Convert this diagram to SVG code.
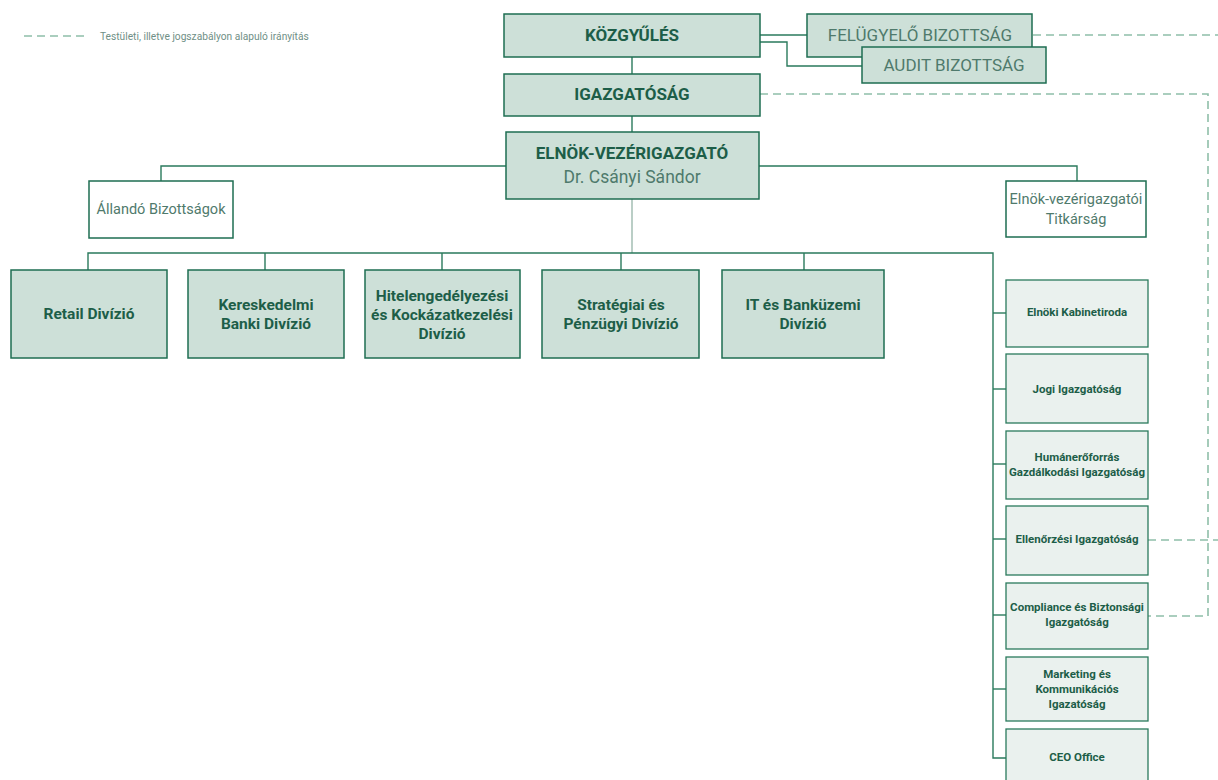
<svg xmlns="http://www.w3.org/2000/svg" width="1218" height="780" viewBox="0 0 1218 780">
<defs>
<style>
.box{fill:#cde0d8;stroke:#1e6e52;stroke-width:1.5}
.wbox{fill:#ffffff;stroke:#1e6e52;stroke-width:1.5}
.lbox{fill:#eaf1ee;stroke:#2a7a5c;stroke-width:1.3}
.ln{fill:none;stroke:#2a7a5c;stroke-width:1.4}
.lnl{fill:none;stroke:#a9c2b8;stroke-width:1.6}
.dash{fill:none;stroke:#8fbfa9;stroke-width:1.6;stroke-dasharray:8 5}
text{font-family:Roboto,"Liberation Sans",sans-serif;text-anchor:middle}
.tb{font-weight:bold;fill:#1d5e48;font-size:17px}
.tr{fill:#4f7a6c;font-size:17px}
.tr2{fill:#4f7a6c;font-size:17.5px}
.td{font-weight:bold;fill:#1d5e48;font-size:15.5px}
.ts{fill:#4f7a6c;font-size:14.5px}
.tx{font-weight:bold;fill:#1d5e48;font-size:11.5px}
.leg{fill:#6f8f86;font-size:10.2px;text-anchor:start}
</style>
</defs>
<g id="legend">
<line class="dash" x1="24" y1="36" x2="84" y2="36"/>
<text class="leg" x="100" y="39.5">Testületi, illetve jogszabályon alapuló irányítás</text>
</g>
<g id="connectors">
<line class="ln" x1="632" y1="57" x2="632" y2="74"/>
<line class="ln" x1="632" y1="116" x2="632" y2="132"/>
<line class="ln" x1="760" y1="35" x2="807" y2="35"/>
<polyline class="ln" points="760,42 787,42 787,66 862,66"/>
<polyline class="ln" points="506,166 161,166 161,181"/>
<polyline class="ln" points="758,166 1077,166 1077,181"/>
<line class="lnl" x1="632" y1="199" x2="632" y2="253"/>
<polyline class="ln" points="88,270 88,253 993,253 993,758 1006,758"/>
<line class="ln" x1="265" y1="253" x2="265" y2="270"/>
<line class="ln" x1="442" y1="253" x2="442" y2="270"/>
<line class="ln" x1="621" y1="253" x2="621" y2="270"/>
<line class="ln" x1="804" y1="253" x2="804" y2="270"/>
<line class="ln" x1="993" y1="313" x2="1006" y2="313"/>
<line class="ln" x1="993" y1="389" x2="1006" y2="389"/>
<line class="ln" x1="993" y1="464" x2="1006" y2="464"/>
<line class="ln" x1="993" y1="539" x2="1006" y2="539"/>
<line class="ln" x1="993" y1="615" x2="1006" y2="615"/>
<line class="ln" x1="993" y1="689" x2="1006" y2="689"/>
<line class="dash" x1="1033" y1="35" x2="1218" y2="35"/>
<polyline class="dash" points="760,94 1208,94 1208,616 1148,616"/>
<line class="dash" x1="1148" y1="540" x2="1218" y2="540"/>
</g>
<g id="kozgyules"><rect class="box" x="504" y="14" width="256" height="43"/><text class="tb" x="632" y="41">KÖZGYŰLÉS</text></g>
<g id="felugyelo"><rect class="box" x="807" y="14" width="225" height="43"/><text class="tr" x="920" y="41">FELÜGYELŐ BIZOTTSÁG</text></g>
<g id="audit"><rect class="box" x="862" y="47" width="184" height="36"/><text class="tr" x="954" y="71">AUDIT BIZOTTSÁG</text></g>
<g id="igazgatosag"><rect class="box" x="504" y="74" width="256" height="42"/><text class="tb" x="632" y="100">IGAZGATÓSÁG</text></g>
<g id="elnok"><rect class="box" x="506" y="132" width="253" height="67"/><text class="tb" x="632" y="159">ELNÖK-VEZÉRIGAZGATÓ</text><text class="tr2" x="632" y="183">Dr. Csányi Sándor</text></g>
<g id="allando"><rect class="wbox" x="89" y="181" width="144" height="57"/><text class="ts" x="161" y="214">Állandó Bizottságok</text></g>
<g id="titkarsag"><rect class="wbox" x="1006" y="181" width="140" height="56"/><text class="ts" x="1076" y="204">Elnök-vezérigazgatói</text><text class="ts" x="1076" y="224">Titkárság</text></g>
<g id="retail"><rect class="box" x="11" y="270" width="156" height="88"/><text class="td" x="89" y="319">Retail Divízió</text></g>
<g id="kereskedelmi"><rect class="box" x="188" y="270" width="156" height="88"/><text class="td" x="266" y="310">Kereskedelmi</text><text class="td" x="266" y="329">Banki Divízió</text></g>
<g id="hitel"><rect class="box" x="365" y="270" width="155" height="88"/><text class="td" x="442" y="301">Hitelengedélyezési</text><text class="td" x="442" y="320">és Kockázatkezelési</text><text class="td" x="442" y="339">Divízió</text></g>
<g id="strategiai"><rect class="box" x="542" y="270" width="157" height="88"/><text class="td" x="621" y="310">Stratégiai és</text><text class="td" x="621" y="329">Pénzügyi Divízió</text></g>
<g id="it"><rect class="box" x="722" y="270" width="162" height="88"/><text class="td" x="803" y="310">IT és Banküzemi</text><text class="td" x="803" y="329">Divízió</text></g>
<g id="kabinet"><rect class="lbox" x="1006" y="280" width="142" height="67"/><text class="tx" x="1077" y="316">Elnöki Kabinetiroda</text></g>
<g id="jogi"><rect class="lbox" x="1006" y="354" width="142" height="69"/><text class="tx" x="1077" y="393">Jogi Igazgatóság</text></g>
<g id="human"><rect class="lbox" x="1006" y="431" width="142" height="68"/><text class="tx" x="1077" y="461">Humánerőforrás</text><text class="tx" x="1077" y="476">Gazdálkodási Igazgatóság</text></g>
<g id="ellenorzesi"><rect class="lbox" x="1006" y="506" width="142" height="69"/><text class="tx" x="1077" y="543">Ellenőrzési Igazgatóság</text></g>
<g id="compliance"><rect class="lbox" x="1006" y="583" width="142" height="66"/><text class="tx" x="1077" y="611">Compliance és Biztonsági</text><text class="tx" x="1077" y="626">Igazgatóság</text></g>
<g id="marketing"><rect class="lbox" x="1006" y="657" width="142" height="64"/><text class="tx" x="1077" y="678">Marketing és</text><text class="tx" x="1077" y="693">Kommunikációs</text><text class="tx" x="1077" y="708">Igazatóság</text></g>
<g id="ceo"><rect class="lbox" x="1006" y="729" width="142" height="60"/><text class="tx" x="1077" y="761">CEO Office</text></g>
</svg>
